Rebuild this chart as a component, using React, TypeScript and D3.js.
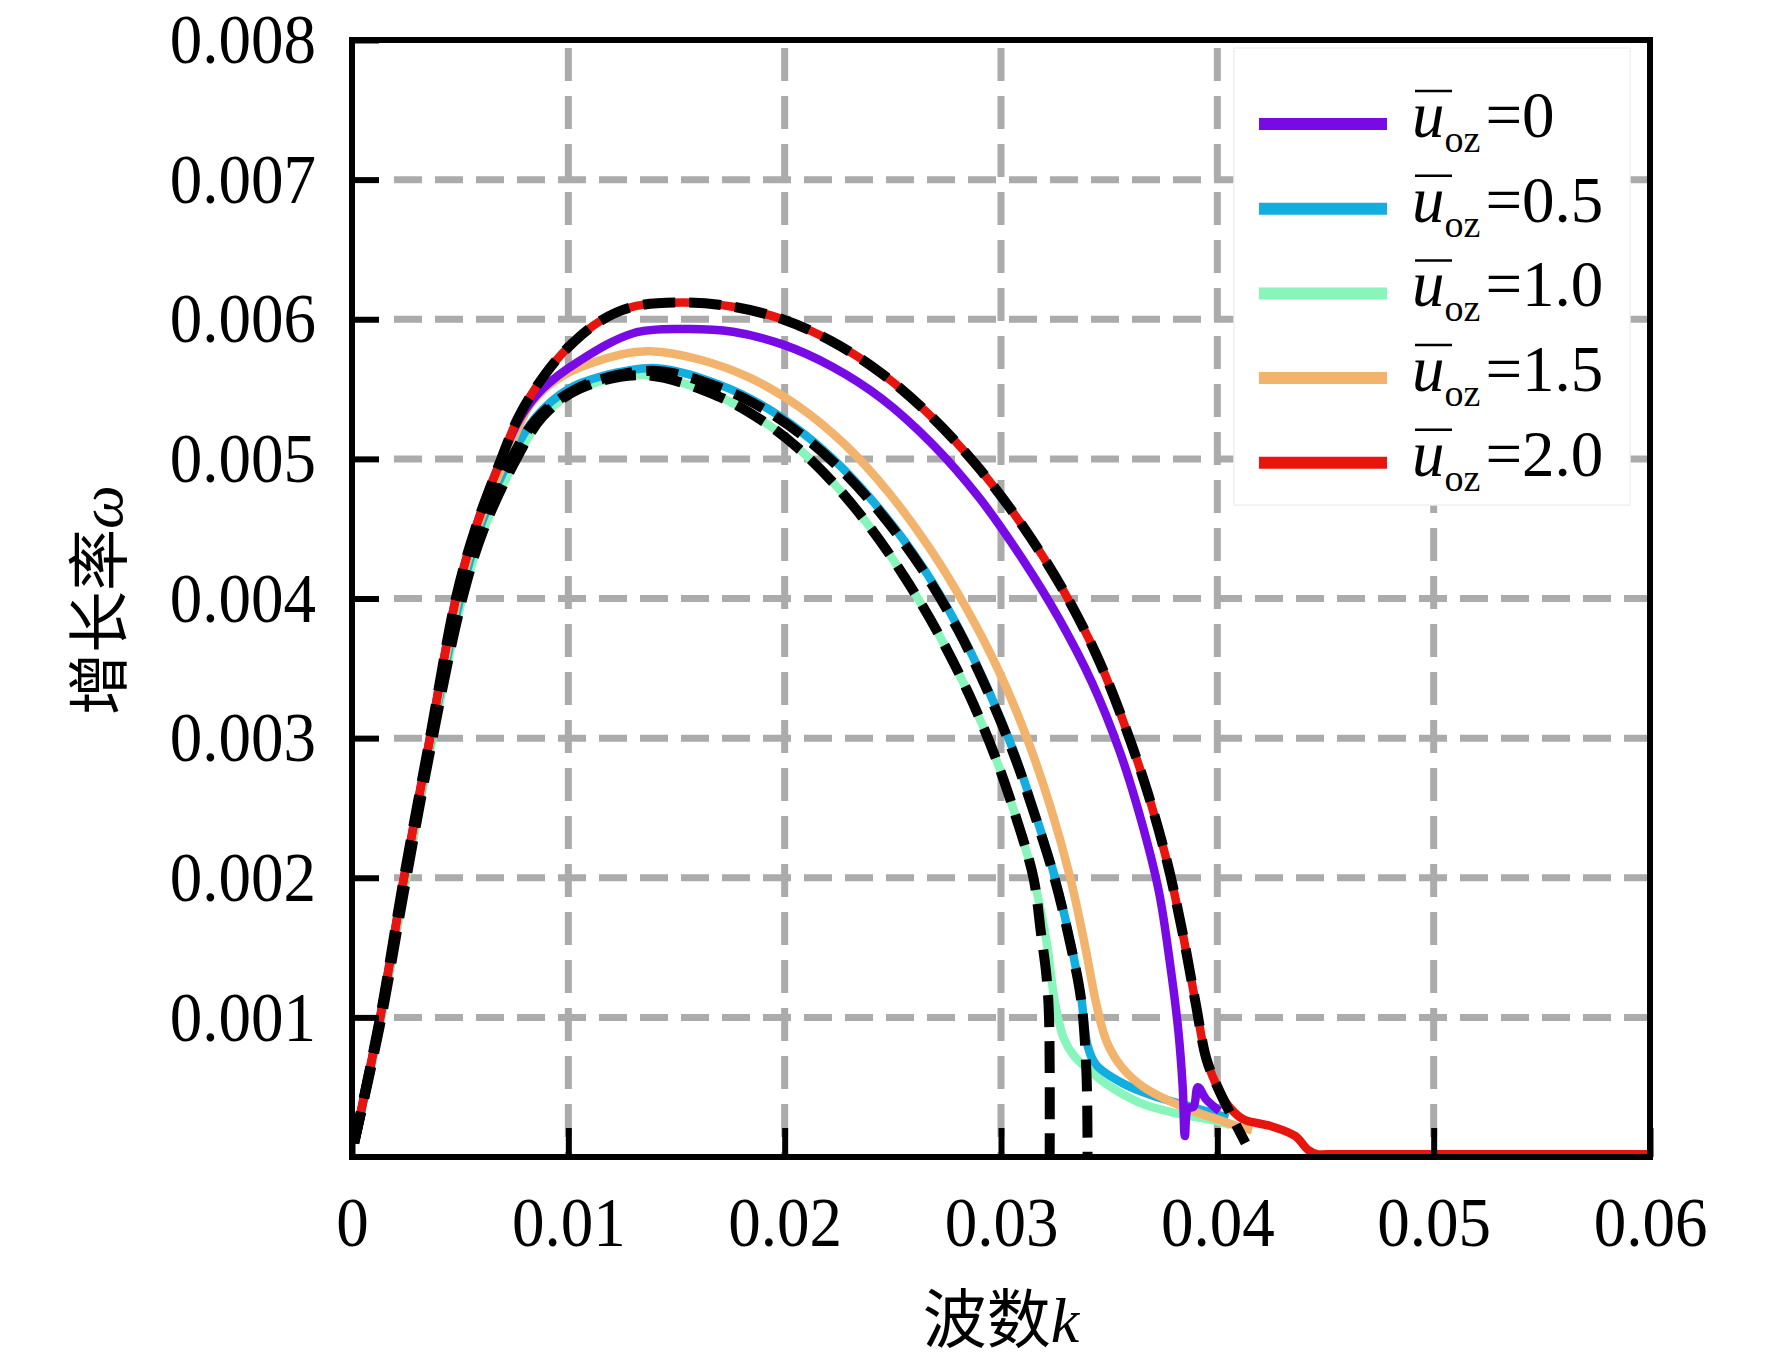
import React, { useEffect, useRef } from 'react';
import * as d3 from 'd3';

type Pt = [number, number];

// growth rate curves, [wavenumber k, growth rate omega]
const uoz0: Pt[] = [
  [0.0001, 0.0001], [0.0013, 0.001], [0.0024, 0.002], [0.0036, 0.003], [0.0048, 0.004],
  [0.0057, 0.0045], [0.0069, 0.005], [0.0078, 0.0053], [0.0088, 0.0055], [0.0105, 0.0057],
  [0.013, 0.0059], [0.0153, 0.00593], [0.0176, 0.00591], [0.0199, 0.00582], [0.0222, 0.00566],
  [0.0245, 0.00543], [0.0268, 0.00511], [0.029, 0.00472], [0.031, 0.00428], [0.0327, 0.00385],
  [0.0342, 0.0034], [0.0355, 0.0029], [0.0365, 0.0024], [0.0373, 0.0019], [0.0378, 0.0014],
  [0.0382, 0.0009], [0.0384, 0.0005], [0.0385, 0.00015], [0.03865, 0.00035], [0.0389, 0.00036],
  [0.0391, 0.0005], [0.0395, 0.00041], [0.0401, 0.00033]
];
const uoz05: Pt[] = [
  [0.0001, 0.0001], [0.0013, 0.00098], [0.0024, 0.00196], [0.0036, 0.00295], [0.005, 0.004],
  [0.0059, 0.0045], [0.0073, 0.005], [0.0085, 0.0053], [0.01, 0.0055], [0.0115, 0.00559],
  [0.0141, 0.00565], [0.017, 0.00553], [0.0189, 0.00539], [0.0208, 0.00519], [0.0227, 0.00493],
  [0.0246, 0.0046], [0.0264, 0.00422], [0.028, 0.0038], [0.0294, 0.00335], [0.0306, 0.0029],
  [0.0316, 0.00245], [0.0325, 0.002], [0.0332, 0.00155], [0.0337, 0.00115], [0.034, 0.0008],
  [0.0344, 0.00066], [0.0356, 0.00053], [0.037, 0.00044], [0.039, 0.00035], [0.0405, 0.00028]
];
const uoz10: Pt[] = [
  [0.0001, 0.0001], [0.0013, 0.00095], [0.0024, 0.0019], [0.0036, 0.0029], [0.0051, 0.004],
  [0.0061, 0.0045], [0.0076, 0.005], [0.0088, 0.0053], [0.0105, 0.0055], [0.0135, 0.0056],
  [0.0169, 0.00545], [0.0189, 0.00528], [0.0206, 0.00508], [0.0223, 0.00482], [0.024, 0.0045],
  [0.0256, 0.00414], [0.0271, 0.00375], [0.0285, 0.00332], [0.0297, 0.00288], [0.0307, 0.00243],
  [0.0315, 0.002], [0.0321, 0.00155], [0.0325, 0.0011], [0.0329, 0.00085], [0.0334, 0.00072],
  [0.0341, 0.00062], [0.0348, 0.00053], [0.0364, 0.00039], [0.0379, 0.00032], [0.0399, 0.00026],
  [0.0406, 0.00023]
];
const uoz15: Pt[] = [
  [0.0001, 0.0001], [0.0013, 0.00098], [0.0024, 0.00196], [0.0036, 0.00296], [0.0049, 0.004],
  [0.0058, 0.0045], [0.0071, 0.005], [0.0083, 0.0054], [0.0098, 0.0056], [0.0125, 0.00575],
  [0.0138, 0.00577], [0.0161, 0.00571], [0.0184, 0.00558], [0.0207, 0.00537], [0.0228, 0.0051],
  [0.0248, 0.00476], [0.0267, 0.00436], [0.0284, 0.00393], [0.0299, 0.00348], [0.0312, 0.003],
  [0.0323, 0.0025], [0.0332, 0.002], [0.0339, 0.0015], [0.0344, 0.0011], [0.0349, 0.00082],
  [0.0356, 0.00064], [0.0366, 0.0005], [0.0387, 0.00034], [0.0402, 0.00026], [0.0411, 0.00021],
  [0.0416, 0.00019]
];
const uoz20: Pt[] = [
  [0.0001, 0.0001], [0.0013, 0.001], [0.0024, 0.002], [0.0036, 0.003], [0.0048, 0.004],
  [0.0057, 0.0045], [0.0069, 0.005], [0.0077, 0.0053], [0.0089, 0.0056], [0.01, 0.0058],
  [0.0115, 0.00599], [0.013, 0.00609], [0.0153, 0.00612], [0.0176, 0.00609], [0.0199, 0.006],
  [0.0222, 0.00584], [0.0245, 0.00561], [0.0268, 0.0053], [0.029, 0.00493], [0.031, 0.00452],
  [0.0328, 0.00408], [0.0344, 0.0036], [0.0357, 0.0031], [0.0368, 0.0026], [0.0377, 0.0021],
  [0.0384, 0.0016], [0.039, 0.0011], [0.0395, 0.0007], [0.0401, 0.00047], [0.0406, 0.00035],
  [0.0412, 0.00027], [0.0425, 0.00022], [0.0436, 0.00015], [0.0442, 0.00005], [0.0446, 0.00002],
  [0.0451, 0.00002], [0.06, 0.00002]
];

// black dashed comparison curves
const dashedA: Pt[] = [
  [0.0001, 0.0001], [0.0013, 0.001], [0.0024, 0.002], [0.0036, 0.003], [0.0048, 0.004],
  [0.0057, 0.0045], [0.0069, 0.005], [0.0077, 0.0053], [0.0089, 0.0056], [0.01, 0.0058],
  [0.0115, 0.00599], [0.013, 0.00609], [0.0153, 0.00612], [0.0176, 0.00609], [0.0199, 0.006],
  [0.0222, 0.00584], [0.0245, 0.00561], [0.0268, 0.0053], [0.029, 0.00493], [0.031, 0.00452],
  [0.0328, 0.00408], [0.0344, 0.0036], [0.0357, 0.0031], [0.0368, 0.0026], [0.0377, 0.0021],
  [0.0384, 0.0016], [0.039, 0.0011], [0.0395, 0.0007], [0.0401, 0.00047], [0.0413, 0.0001]
];
const dashedB: Pt[] = [
  [0.0001, 0.0001], [0.0013, 0.00098], [0.0024, 0.00196], [0.0036, 0.00295], [0.005, 0.004],
  [0.0059, 0.00449], [0.0073, 0.00498], [0.0085, 0.00528], [0.01, 0.00547], [0.0115, 0.00557],
  [0.0141, 0.00563], [0.017, 0.00551], [0.0189, 0.00537], [0.0208, 0.00517], [0.0227, 0.00491],
  [0.0246, 0.00458], [0.0264, 0.0042], [0.028, 0.00378], [0.0294, 0.00333], [0.0306, 0.00288],
  [0.0316, 0.00243], [0.0325, 0.00198], [0.0332, 0.00153], [0.0337, 0.00113], [0.03395, 0.0006],
  [0.034, 0.0]
];
const dashedC: Pt[] = [
  [0.0001, 0.0001], [0.0013, 0.00095], [0.0024, 0.0019], [0.0036, 0.0029], [0.0051, 0.004],
  [0.0061, 0.0045], [0.0076, 0.005], [0.0088, 0.0053], [0.0105, 0.0055], [0.0135, 0.0056],
  [0.0169, 0.00545], [0.0189, 0.00528], [0.0206, 0.00508], [0.0223, 0.00482], [0.024, 0.0045],
  [0.0256, 0.00414], [0.0271, 0.00375], [0.0285, 0.00332], [0.0297, 0.00288], [0.0307, 0.00243],
  [0.0315, 0.002], [0.03185, 0.0016], [0.0321, 0.0013], [0.03222, 0.001], [0.03225, 0.0]
];

const legendLabels = ['0', '0.5', '1.0', '1.5', '2.0'];
const seriesData = [uoz0, uoz05, uoz10, uoz15, uoz20];
const seriesColors = ['#780ae6', '#12aee0', '#88f5ba', '#f2b36c', '#e8140e'];
const drawOrder = [2, 1, 3, 0, 4];
const dashedData = [dashedA, dashedB, dashedC];

const xTicks = [0, 0.01, 0.02, 0.03, 0.04, 0.05, 0.06];
const yTicks = [0.001, 0.002, 0.003, 0.004, 0.005, 0.006, 0.007, 0.008];
const xGrid = [0.01, 0.02, 0.03, 0.04, 0.05];
const yGrid = [0.001, 0.002, 0.003, 0.004, 0.005, 0.006, 0.007];

const SERIF = '"Times New Roman", "Liberation Serif", "Noto Sans CJK SC", serif';

const App = () => {
  const ref = useRef<SVGSVGElement>(null);

  useEffect(() => {
    if (!ref.current) return;
    const svg = d3.select(ref.current);
    svg.selectAll('*').remove();

    const L = 352, R = 1650, T = 40, B = 1157;
    const x = d3.scaleLinear().domain([0, 0.06]).range([L, R]);
    const y = d3.scaleLinear().domain([0, 0.008]).range([B, T]);

    // grid
    const grid = svg.append('g').attr('stroke', '#ababab').attr('stroke-width', 7).attr('fill', 'none');
    yGrid.forEach(v => {
      grid.append('line').attr('x1', L + 42).attr('x2', R).attr('y1', y(v)).attr('y2', y(v))
        .attr('stroke-dasharray', '28,13');
    });
    xGrid.forEach(v => {
      grid.append('line').attr('x1', x(v)).attr('x2', x(v)).attr('y1', T + 8).attr('y2', B)
        .attr('stroke-dasharray', '33,15');
    });

    // legend background
    svg.append('rect').attr('x', 1234).attr('y', 48).attr('width', 396).attr('height', 457)
      .attr('fill', '#fff').attr('stroke', '#f0f0f0').attr('stroke-width', 1.5);

    const line = d3.line<Pt>()
      .x(d => x(d[0]))
      .y(d => y(d[1]))
      .curve(d3.curveCatmullRom.alpha(0.5));

    drawOrder.forEach(i => {
      svg.append('path').datum(seriesData[i]).attr('d', line)
        .attr('fill', 'none').attr('stroke', seriesColors[i]).attr('stroke-width', 8.5)
        .attr('stroke-linejoin', 'round');
    });

    dashedData.forEach(d => {
      svg.append('path').datum(d).attr('d', line)
        .attr('fill', 'none').attr('stroke', '#000').attr('stroke-width', 10)
        .attr('stroke-dasharray', '32,14');
    });

    // frame
    svg.append('rect').attr('x', L).attr('y', T).attr('width', R - L).attr('height', B - T)
      .attr('fill', 'none').attr('stroke', '#000').attr('stroke-width', 6);

    // axes
    const gy = svg.append('g').attr('transform', `translate(${L},0)`)
      .call(d3.axisLeft(y).tickValues(yTicks).tickSizeInner(-27).tickSizeOuter(0)
        .tickPadding(36).tickFormat(d3.format('.3f')));
    gy.select('.domain').remove();
    gy.selectAll('line').attr('stroke', '#000').attr('stroke-width', 6);
    gy.selectAll('text').attr('font-size', 65).attr('font-family', SERIF).attr('fill', '#000')
      .attr('dy', '0.33em').attr('transform', 'scale(1,1.06)');

    const gx = svg.append('g').attr('transform', `translate(0,${B})`)
      .call(d3.axisBottom(x).tickValues(xTicks).tickSizeInner(-29).tickSizeOuter(0)
        .tickPadding(38).tickFormat(d => (+d === 0 ? '0' : d3.format('.2f')(+d))));
    gx.select('.domain').remove();
    gx.selectAll('line').attr('stroke', '#000').attr('stroke-width', 6);
    gx.selectAll('text').attr('font-size', 65).attr('font-family', SERIF).attr('fill', '#000')
      .attr('transform', 'scale(1,1.06)');

    // axis titles
    const xt = svg.append('text').attr('x', 1001).attr('y', 1342).attr('text-anchor', 'middle')
      .attr('font-family', SERIF).attr('font-size', 64).attr('fill', '#000');
    xt.append('tspan').text('波数');
    xt.append('tspan').attr('font-style', 'italic').text('k');

    const yt = svg.append('text').attr('transform', 'translate(122,600) rotate(-90)')
      .attr('text-anchor', 'middle').attr('font-family', SERIF).attr('font-size', 62).attr('fill', '#000');
    yt.append('tspan').text('增长率');
    yt.append('tspan').attr('font-style', 'italic').text('ω');

    // legend
    legendLabels.forEach((lab, i) => {
      const ly = 124 + i * 84.7;
      svg.append('line').attr('x1', 1259).attr('x2', 1387).attr('y1', ly).attr('y2', ly)
        .attr('stroke', seriesColors[i]).attr('stroke-width', 12);
      const t = svg.append('text').attr('x', 1412).attr('y', ly + 13)
        .attr('font-family', SERIF).attr('font-size', 65).attr('fill', '#000');
      t.append('tspan').attr('font-style', 'italic').text('u');
      t.append('tspan').attr('font-size', 38).attr('dy', 15).text('oz');
      t.append('tspan').attr('dy', -15).attr('dx', 5).text('=' + lab);
      svg.append('line').attr('x1', 1415).attr('x2', 1452).attr('y1', ly - 33).attr('y2', ly - 33)
        .attr('stroke', '#000').attr('stroke-width', 2.5);
    });
  }, []);

  return (
    <div style={{ position: 'absolute', left: 0, top: 0, background: '#fff' }}>
      <svg ref={ref} width={1772} height={1364} style={{ display: 'block' }} />
    </div>
  );
};

export default App;
